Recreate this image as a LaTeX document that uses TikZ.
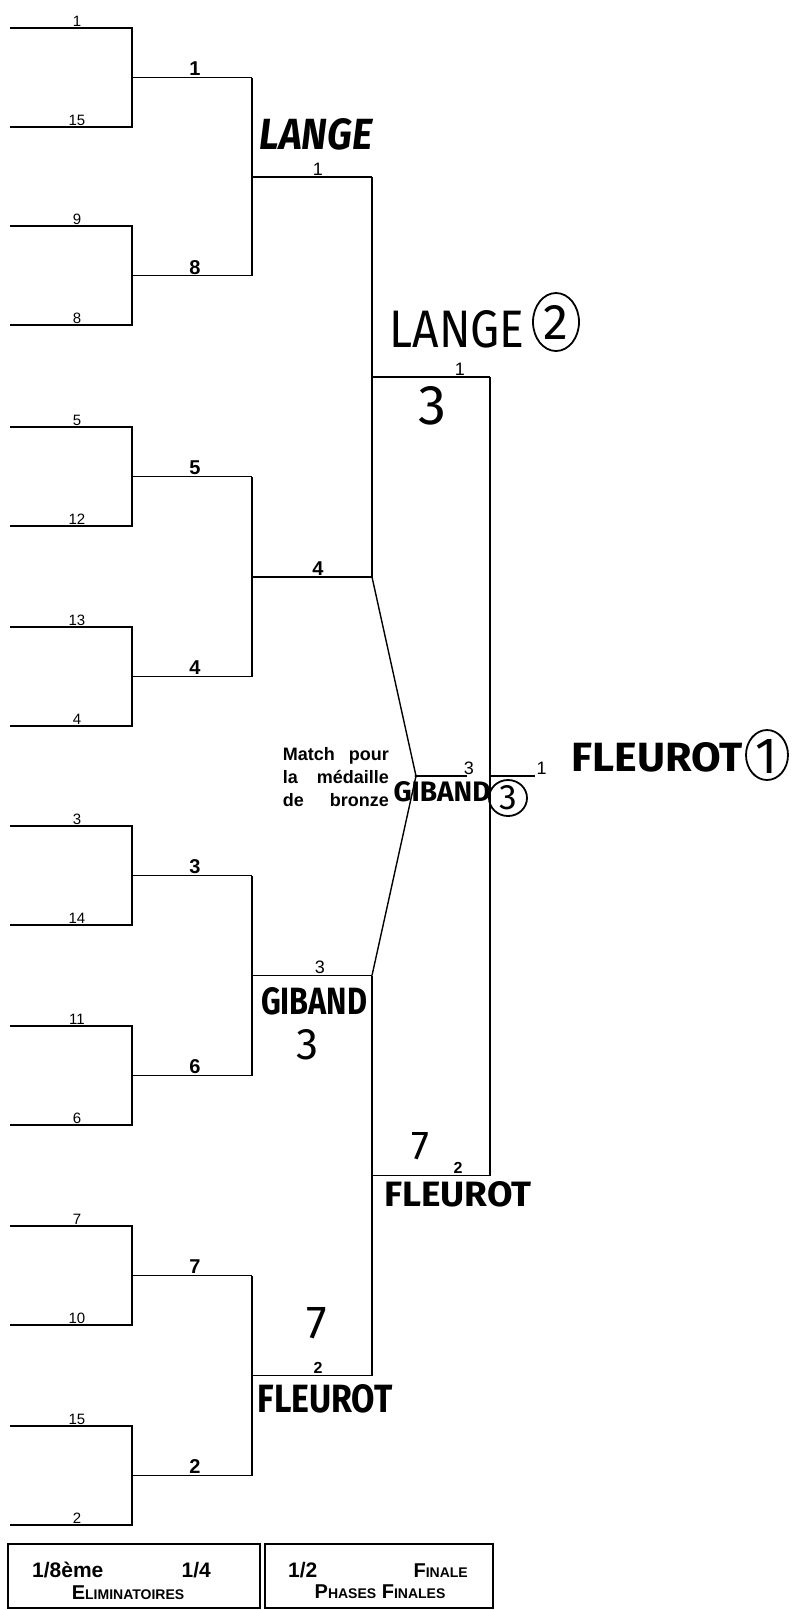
\documentclass[tikz,border=0pt]{standalone}
\usepackage{fontspec}
\usepackage{graphicx}
\usetikzlibrary{shapes.geometric}
\setmainfont{Liberation Sans}
\newfontfamily\hand{Fira Sans}
\newcommand{\mysmc}{\fontsize{14}{14}\selectfont}
\begin{document}
\begin{tikzpicture}[x=1pt,y=-1pt,
  br/.style={line width=1.4pt, line join=miter},
  l1/.style={font=\fontsize{15}{15}\selectfont, anchor=south, inner sep=1.5pt},
  l2/.style={font=\bfseries\fontsize{20}{20}\selectfont, anchor=south, inner sep=1.5pt},
  l3/.style={font=\fontsize{18}{18}\selectfont, anchor=south, inner sep=1.5pt},
  l4/.style={font=\bfseries\fontsize{16}{16}\selectfont, anchor=south, inner sep=1.5pt},
  hw/.style={inner sep=0pt, font=\hand},
  hwb/.style={inner sep=0pt, font=\hand\bfseries},
  circ/.style={draw, line width=1.8pt, ellipse, inner sep=0pt},
  lbl/.style={font=\bfseries\fontsize{21}{21}\selectfont, inner sep=0pt},
  sc/.style={font=\bfseries\fontsize{20}{20}\selectfont, inner sep=0pt}]
\useasboundingbox (0,0) rectangle (793,1610);

% ---- 1/8 : first round
\foreach \t/\a/\b [count=\i] in {28/1/15, 226/9/8, 427/5/12, 627/13/4, 826/3/14, 1026/11/6, 1226/7/10, 1426/15/2} {
  \coordinate (a\i) at (10,\t);
  \coordinate (b\i) at (10,\t+99);
  \coordinate (ta\i) at (132,\t);
  \coordinate (tb\i) at (132,\t+99);
  \coordinate (m\i) at (132,\t+49.5);
  \coordinate (r\i) at (252,\t+49.5);
  \draw[br] (a\i) -- (ta\i) -- (tb\i) -- (b\i);
  \draw[br] (m\i) -- (r\i);
  \node[l1] (na\i) at (77,\t) {\a};
  \node[l1] (nb\i) at (77,\t+99) {\b};
}
% ---- 1/4 : second round labels
\node[l2] (s1) at (195,77.5) {1};
\node[l2] (s2) at (195,276.5) {8};
\node[l2] (s3) at (195,476.5) {5};
\node[l2] (s4) at (195,676.5) {4};
\node[l2] (s5) at (195,875.5) {3};
\node[l2] (s6) at (195,1075.5) {6};
\node[l2] (s7) at (195,1275.5) {7};
\node[l2] (s8) at (195,1475.5) {2};

% ---- quarter finals
\coordinate (q1) at (252,177);   \coordinate (qe1) at (372,177);
\coordinate (q2) at (252,577);   \coordinate (qe2) at (372,577);
\coordinate (q3) at (252,975.5); \coordinate (qe3) at (372,975.5);
\coordinate (q4) at (252,1375.5);\coordinate (qe4) at (372,1375.5);
\draw[br] (r1) -- (r2);
\draw[br] (r3) -- (r4);
\draw[br] (r5) -- (r6);
\draw[br] (r7) -- (r8);
\draw[br] (q1) -- (qe1);
\draw[br] (q2) -- (qe2);
\draw[br] (q3) -- (qe3);
\draw[br] (q4) -- (qe4);
\node[l3] (qa) at (318,177) {1};
\node[l2] (qb) at (318,577) {4};
\node[l3] (qc) at (320,975.5) {3};
\node[l4] (qd) at (318,1375.5) {2};

% ---- semi finals
\coordinate (h1) at (372,377);    \coordinate (he1) at (490,377);
\coordinate (h2) at (372,1175.5); \coordinate (he2) at (490,1175.5);
\draw[br] (qe1) -- (qe2);
\draw[br] (qe3) -- (qe4);
\draw[br] (h1) -- (he1);
\draw[br] (h2) -- (he2);
\node[l3] (ha) at (460,377) {1};
\node[l4] (hb) at (458,1175.5) {2};

% ---- final
\coordinate (f1) at (490,776); \coordinate (fe) at (535,776);
\draw[br] (he1) -- (he2);
\draw[br] (f1) -- (fe);
\node[l3, anchor=south west] (fa) at (535,776) {1};

% ---- bronze match
\coordinate (bz) at (416,776); \coordinate (bze) at (467,776);
\draw[line width=1.4pt] (qe2) -- (bz) -- (qe3);
\draw[br] (bz) -- (bze);
\fill (bz) circle (1.6pt);
\node[l3] (bza) at (469,776) {3};
\node[font=\bfseries\fontsize{18}{23}\selectfont, inner sep=0pt, anchor=east, align=left] (mp) at (389,777)
  {\makebox[106pt][s]{Match pour}\\ \makebox[106pt][s]{la médaille}\\ \makebox[106pt][s]{de bronze}};

% ---- handwritten annotations
\node[hwb] (lange1) at (316,134) {\resizebox{113pt}{31pt}{\itshape LANGE}};
\node[hw] (lange2) at (457,329) {\resizebox{135pt}{37pt}{LANGE}};
\node[circ, minimum width=46pt, minimum height=58pt] (c2) at (556,322) {};
\node[hw] (c2t) at (556,322) {\resizebox{!}{34pt}{2}};
\node[hw] (sc1) at (432,406) {\resizebox{!}{38pt}{3}};

\node[hwb] (gib1) at (314,1001) {\resizebox{106pt}{27pt}{GIBAND}};
\node[hw] (sc2) at (308,1045) {\resizebox{!}{30pt}{3}};

\node[hwb] (gib2) at (442,792) {\resizebox{97pt}{20pt}{GIBAND}};
\node[circ, minimum width=38pt, minimum height=36pt] (c3) at (508,798) {};
\node[hw] (c3t) at (508,798) {\resizebox{!}{24pt}{3}};

\node[hwb] (fl1) at (657,757) {\resizebox{171pt}{29pt}{FLEUROT}};
\node[circ, minimum width=42pt, minimum height=50pt] (c1) at (767,755) {};
\node[hw] (c1t) at (767,756) {\resizebox{!}{34pt}{1}};

\node[hwb] (fl2) at (458,1194) {\resizebox{147pt}{25pt}{FLEUROT}};
\node[hw] (sc3) at (420,1146) {\resizebox{!}{27pt}{7}};

\node[hwb] (fl3) at (325,1399) {\resizebox{135pt}{28pt}{FLEUROT}};
\node[hw] (sc4) at (317,1323) {\resizebox{!}{31pt}{7}};

% ---- legend boxes
\node[draw, line width=1.4pt, minimum width=252pt, minimum height=64pt, inner sep=0pt] (box1) at (134,1576) {};
\node[draw, line width=1.4pt, minimum width=228pt, minimum height=64pt, inner sep=0pt] (box2) at (379,1576) {};
\node[lbl, anchor=base west] (t1) at (32,1577) {1/8ème};
\node[lbl, anchor=base east] (t2) at (211,1577) {1/4};
\node[sc, anchor=base] (t3) at (128,1599) {E{\mysmc LIMINATOIRES}};
\node[lbl, anchor=base west] (t4) at (288,1577) {1/2};
\node[sc, anchor=base east] (t5) at (468,1577) {F{\mysmc INALE}};
\node[sc, anchor=base] (t6) at (380,1598) {P{\mysmc HASES} F{\mysmc INALES}};
\end{tikzpicture}
\end{document}
